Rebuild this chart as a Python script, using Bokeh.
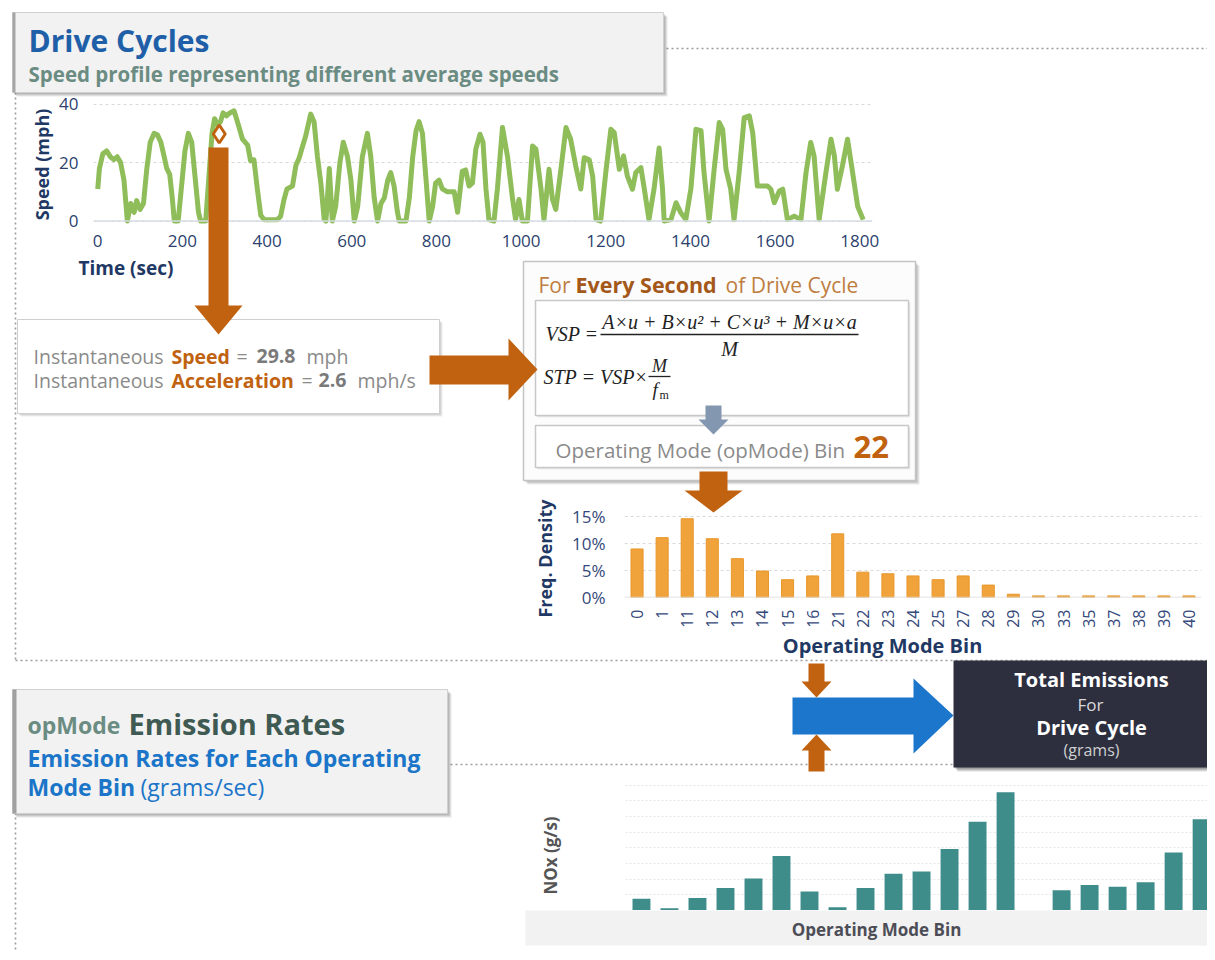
import math
from bokeh.plotting import figure
from bokeh.models import Range1d, FactorRange, FixedTicker, NumeralTickFormatter, Span, SingleIntervalTicker
from bokeh.core.properties import value
from bokeh.embed import file_html
from bokeh.resources import INLINE

# ---------------- data ----------------
time_s = [
    0, 4, 12, 21, 30, 38, 46, 54, 62, 70,
    78, 86, 92, 100, 108, 116, 124, 133, 141, 149,
    157, 163, 170, 176, 181, 190, 198, 206, 214, 222,
    230, 238, 243, 255, 262, 270, 276, 283, 290, 296,
    304, 312, 322, 330, 342, 354, 361, 369, 377, 385,
    393, 405, 424, 432, 440, 447, 460, 468, 476, 484,
    491, 503, 511, 519, 527, 535, 539, 547, 554, 562,
    572, 580, 590, 598, 606, 614, 625, 637, 645, 653,
    661, 669, 677, 685, 692, 700, 708, 712, 728, 736,
    744, 752, 759, 767, 775, 783, 791, 798, 806, 814,
    826, 842, 850, 861, 869, 877, 885, 893, 903, 910,
    917, 924, 936, 944, 956, 968, 980, 987, 995, 1003,
    1015, 1027, 1035, 1047, 1054, 1066, 1074, 1082, 1094, 1106,
    1117, 1129, 1141, 1149, 1161, 1169, 1177, 1188, 1200, 1212,
    1220, 1232, 1242, 1251, 1263, 1271, 1283, 1291, 1302, 1314,
    1326, 1334, 1338, 1354, 1366, 1377, 1389, 1401, 1413, 1425,
    1432, 1444, 1456, 1468, 1476, 1484, 1495, 1503, 1515, 1527,
    1539, 1547, 1558, 1570, 1582, 1590, 1598, 1610, 1618, 1629,
    1645, 1661, 1673, 1684, 1692, 1704, 1720, 1732, 1740, 1747,
    1759, 1771, 1783, 1795, 1808,
]
speed_mph = [
    11, 18, 23, 24, 22, 21, 22, 20, 14, 0,
    6, 3, 7, 4, 6, 18, 27, 30, 29.5, 27,
    22, 18, 16, 8, 0, 0, 12, 24, 30, 27,
    15, 3, 0, 0, 14, 30, 35, 33, 34, 37,
    36, 37, 37.7, 34, 28, 26, 20.6, 21, 11, 2,
    0.5, 0.5, 0.5, 1.7, 7.4, 11, 12, 19, 21.7, 25.7,
    29, 36.6, 34, 22, 13, 0.5, 0, 18, 0, 5,
    20, 27, 22, 14, 0, 5, 22, 30, 22, 8,
    0, 6, 8, 14, 16.6, 12, 3, 0, 0, 8,
    22, 31, 34, 30, 15, 0, 5, 13, 14, 11,
    10, 10, 3, 17, 17.5, 12, 13, 24.6, 29.7, 27,
    11, 0.5, 0, 11, 32, 22, 7.4, 0.5, 7.4, 0,
    0, 25.7, 24.6, 11, 0.5, 17.7, 7.5, 4, 17.7, 32,
    28, 18.9, 11, 21.7, 21, 15.4, 0.5, 0, 16.6, 31.4,
    30.3, 17.7, 22.3, 15.4, 10.9, 16.6, 18.3, 11, 0.5, 11,
    25, 11, 0, 0.5, 6.3, 2.9, 0.5, 11, 31.4, 30.9,
    16.6, 0, 17.7, 33.7, 31.4, 17.7, 11, 0.5, 16.6, 35.4,
    36, 30.3, 12, 12, 12, 10.9, 6.3, 10.3, 10.9, 0.5,
    1.7, 0.5, 16.6, 26.9, 22.3, 0.5, 16.6, 28, 22.3, 10.9,
    18.9, 28, 16.6, 5, 0.5,
]
assert len(time_s) == len(speed_mph)
time_ticks = [0, 200, 400, 600, 800, 1000, 1200, 1400, 1600, 1800]
speed_ticks = [0, 20, 40]

point_time = [287]
point_speed = [29.8]
inst_speed = "29.8"
inst_accel = "2.6"
opmode_result = "22"

opmode_bins = ["0", "1", "11", "12", "13", "14", "15", "16", "21", "22", "23", "24",
               "25", "27", "28", "29", "30", "33", "35", "37", "38", "39", "40"]
freq_density = [0.090, 0.111, 0.146, 0.109, 0.072, 0.049, 0.033, 0.040, 0.118, 0.047, 0.044, 0.040,
                0.033, 0.040, 0.023, 0.006, 0.003, 0.003, 0.003, 0.003, 0.003, 0.003, 0.003]
freq_ticks = [0, 0.05, 0.10, 0.15]

nox_slots = list(range(1, 22))
nox_rates = [0.0119, 0.0024, 0.0128, 0.0230, 0.0327, 0.0557, 0.0194, 0.0034, 0.0230, 0.0375,
             0.0399, 0.0629, 0.0908, 0.1210, 0.0, 0.0206, 0.0260, 0.0242, 0.0290, 0.0593, 0.0932]

# ---------------- styles ----------------
FONT = "Open Sans"
SERIF = "Liberation Serif"
NAVY = "#1f3864"
TICK = "#2c3f6e"
ORANGE = "#c0620f"
GREEN = "#8fbd5a"
GRAY_TXT = "#8a8a8a"
EQ = "#222222"


def place(left, top):
    return {"position": "absolute", "left": f"{left}px", "top": f"{top}px"}


def style_axis(ax, size="17px", color=TICK):
    ax.axis_line_color = None
    ax.major_tick_line_color = None
    ax.minor_tick_line_color = None
    ax.major_tick_out = 0
    ax.major_tick_in = 0
    ax.minor_tick_out = 0
    ax.major_label_text_font = FONT
    ax.major_label_text_font_size = size
    ax.major_label_text_color = color


# ---------------- speed chart ----------------
sp = figure(frame_width=779, frame_height=124,
            x_range=Range1d(-10, 1830), y_range=Range1d(-1.5, 40.9),
            output_backend="svg", toolbar_location=None,
            min_border_left=75, min_border_right=8, min_border_top=14, min_border_bottom=40,
            styles=place(18, 87))
sp.outline_line_color = None
sp.background_fill_alpha = 0
sp.border_fill_alpha = 0
sp.xaxis.ticker = FixedTicker(ticks=time_ticks)
sp.yaxis.ticker = FixedTicker(ticks=speed_ticks)
style_axis(sp.xaxis[0], "17px")
style_axis(sp.yaxis[0], "17px")
sp.xaxis.major_label_standoff = 9
sp.yaxis.major_label_standoff = 15
sp.xgrid.grid_line_color = None
sp.ygrid.grid_line_color = "#d9d9d9"
sp.ygrid.grid_line_dash = "3 3"
sp.add_layout(Span(location=0, dimension="width", line_color="#d6dce5", line_width=1.5))
sp.line(time_s, speed_mph, line_color=GREEN, line_width=5, line_join="round")
sp.scatter(point_time, point_speed, marker="diamond", size=18, line_color=ORANGE,
           line_width=3, fill_color="#ffffff", fill_alpha=0.25)

# ---------------- frequency chart ----------------
fq = figure(frame_width=577, frame_height=89,
            x_range=FactorRange(*opmode_bins, range_padding=0), y_range=Range1d(0, 0.165),
            output_backend="svg", toolbar_location=None,
            min_border_left=60, min_border_right=6, min_border_top=10, min_border_bottom=45,
            styles=place(564, 498))
fq.outline_line_color = None
fq.background_fill_alpha = 0
fq.border_fill_alpha = 0
fq.yaxis.ticker = FixedTicker(ticks=freq_ticks)
fq.yaxis.formatter = NumeralTickFormatter(format="0%")
style_axis(fq.xaxis[0], "16px", "#34487a")
style_axis(fq.yaxis[0], "17px", "#34487a")
fq.xaxis.major_label_orientation = math.pi / 2
fq.xaxis.major_label_standoff = 12
fq.yaxis.major_label_standoff = 19
fq.xgrid.grid_line_color = None
fq.ygrid.grid_line_color = "#d9d9d9"
fq.ygrid.grid_line_dash = "3 3"
fq.add_layout(Span(location=0, dimension="width", line_color="#d9d9d9", line_width=1.5))
fq.vbar(x=opmode_bins, top=freq_density, width=0.48, fill_color="#f0a33a", line_color="#e8962a")

# ---------------- NOx chart ----------------
nx = figure(width=582, height=135, x_range=Range1d(0.43, 21.21), y_range=Range1d(0, 0.138),
            output_backend="svg", toolbar_location=None, min_border=0,
            x_axis_location=None, y_axis_location=None,
            styles=place(625, 775))
nx.outline_line_color = None
nx.background_fill_alpha = 0
nx.border_fill_alpha = 0
nx.xgrid.grid_line_color = None
nx.ygrid.ticker = SingleIntervalTicker(interval=0.016)
nx.ygrid.grid_line_color = "#e6e6e6"
nx.ygrid.grid_line_dash = "2 2"
nx.vbar(x=nox_slots, top=nox_rates, width=0.64, fill_color="#3e8d8b", line_color=None)

# ---------------- infographic canvas (on top, transparent) ----------------
bg = figure(width=1199, height=944, x_range=Range1d(8, 1207), y_range=Range1d(952, 8),
            output_backend="svg", toolbar_location=None, min_border=0,
            x_axis_location=None, y_axis_location=None,
            styles=place(8, 8))
bg.outline_line_color = None
bg.background_fill_alpha = 0
bg.border_fill_alpha = 0
bg.xgrid.grid_line_color = None
bg.ygrid.grid_line_color = None


def box(x0, x1, y0, y1, fill, line=None, lw=1.0, shadow=4, alpha=0.07):
    for k in range(shadow, 0, -1):
        bg.quad(left=x0 + k, right=x1 + k, top=y0 + k, bottom=y1 + k,
                fill_color="#000000", fill_alpha=alpha, line_color=None)
    bg.quad(left=x0, right=x1, top=y0, bottom=y1, fill_color=fill,
            line_color=line, line_width=lw)


def txt(x, y, s, size, color, bold=False, italic=False, align="left",
        baseline="alphabetic", angle=0.0, font=FONT):
    if bold and italic:
        st = "bold italic"
    elif bold:
        st = "bold"
    elif italic:
        st = "italic"
    else:
        st = "normal"
    if baseline == "alphabetic":
        # place by visual cap-centre (y is the intended baseline)
        y = y - (0.33 if font == SERIF else 0.36) * size
        baseline = "middle"
    bg.text(x=[x], y=[y], text=[s], text_font=value(font), text_font_size=f"{size}px",
            text_font_style=st, text_color=color, text_align=align,
            text_baseline=baseline, angle=angle)


def poly(pts, color):
    bg.patch([p[0] for p in pts], [p[1] for p in pts], fill_color=color, line_color=None)


# dotted frame lines
bg.multi_line(xs=[[666, 1215], [15, 15], [15, 1215], [445, 953], [15, 15]],
              ys=[[48, 48], [92, 660], [660, 660], [764, 764], [812, 960]],
              line_color="#9c9c9c", line_width=1.6, line_dash="2 3")

# title box
box(12, 663, 12, 92, "#f2f2f2", line="#d0d0d0", shadow=4, alpha=0.09)
bg.quad(left=12, right=15, top=12, bottom=92, fill_color="#a6a6a6", line_color=None)
txt(28, 51, "Drive Cycles", 30, "#1f5fa8", bold=True)
txt(28, 81, "Speed profile representing different average speeds", 20.5, "#6b8c82", bold=True)

# speed chart titles
txt(41, 164, "Speed (mph)", 18, NAVY, bold=True, align="center", baseline="middle", angle=math.pi / 2)
txt(78, 274, "Time (sec)", 19, NAVY, bold=True)

# instantaneous box
box(17, 439, 319, 413, "#ffffff", line="#cfcfcf", shadow=3, alpha=0.07)
txt(33, 363, "Instantaneous", 19.5, GRAY_TXT)
txt(171, 363, "Speed", 19.5, ORANGE, bold=True)
txt(236, 363, "=", 19.5, GRAY_TXT)
txt(256, 363, inst_speed, 19.5, "#7a7a7a", bold=True)
txt(306, 363, "mph", 19.5, GRAY_TXT)
txt(33, 387, "Instantaneous", 19.5, GRAY_TXT)
txt(171, 387, "Acceleration", 19.5, ORANGE, bold=True)
txt(301, 387, "=", 19.5, GRAY_TXT)
txt(318, 387, inst_accel, 19.5, "#7a7a7a", bold=True)
txt(357, 387, "mph/s", 19.5, GRAY_TXT)

# VSP box
box(523, 915, 261, 480, "#fcfcfc", line="#c4c4c4", lw=1.5, shadow=4, alpha=0.08)
txt(538, 292, "For", 21, "#bf7d40")
txt(575, 292, "Every Second", 21.5, "#a3581a", bold=True)
txt(725, 292, "of Drive Cycle", 21, "#bf7d40")
box(535, 908, 300, 415, "#ffffff", line="#c8c8c8", lw=1.5, shadow=2, alpha=0.06)
box(535, 908, 425, 467, "#ffffff", line="#c8c8c8", lw=1.5, shadow=2, alpha=0.06)
# formula
txt(545, 340, "VSP =", 20, EQ, italic=True, font=SERIF)
txt(729, 328, "A×u + B×u² + C×u³ + M×u×a", 20, EQ, italic=True, font=SERIF, align="center")
bg.line([600, 858], [334, 334], line_color=EQ, line_width=1.4)
txt(729, 355, "M", 20, EQ, italic=True, font=SERIF, align="center")
txt(543, 383, "STP = VSP", 20, EQ, italic=True, font=SERIF)
txt(635, 383, "×", 20, EQ, font=SERIF)
txt(659, 371, "M", 18, EQ, italic=True, font=SERIF, align="center")
bg.line([648, 670], [376, 376], line_color=EQ, line_width=1.3)
txt(652, 395, "f", 19, EQ, italic=True, font=SERIF)
txt(659, 398, "m", 12, EQ, font=SERIF)
# gray arrow
poly([(705, 405), (721, 405), (721, 419), (728, 419), (713, 434), (698, 419), (705, 419)], "#8497b0")
txt(555, 457, "Operating Mode (opMode) Bin", 20.5, GRAY_TXT)
txt(853, 458, opmode_result, 31, ORANGE, bold=True)

# freq chart titles
txt(544, 558, "Freq. Density", 18, NAVY, bold=True, align="center", baseline="middle", angle=math.pi / 2)
txt(882, 645, "Operating Mode Bin", 20, NAVY, bold=True, align="center", baseline="middle")

# orange arrows
poly([(208, 147), (228, 147), (228, 305), (242, 305), (218, 334), (194, 305), (208, 305)], ORANGE)
poly([(429, 355), (508, 355), (508, 338), (537, 369), (508, 400), (508, 384), (429, 384)], ORANGE)
poly([(699, 471), (727, 471), (727, 490), (742, 490), (713, 512), (684, 490), (699, 490)], ORANGE)
poly([(808, 663), (824, 663), (824, 681), (831, 681), (816, 697), (801, 681), (808, 681)], ORANGE)
poly([(816, 734), (831, 750), (824, 750), (824, 771), (808, 771), (808, 750), (801, 750)], ORANGE)
# blue arrow
poly([(792, 697), (913, 697), (913, 678), (953, 715), (913, 753), (913, 734), (792, 734)], "#1b76cc")

# opMode box
box(12, 447, 689, 813, "#f2f2f2", line="#d0d0d0", shadow=4, alpha=0.09)
bg.quad(left=12, right=16, top=689, bottom=813, fill_color="#a0a0a0", line_color=None)
txt(27, 733, "opMode", 23, "#6b8c82", bold=True)
txt(128, 733, "Emission Rates", 29, "#3f5a53", bold=True)
txt(27, 766, "Emission Rates for Each Operating", 23, "#1b75c8", bold=True)
txt(27, 795, "Mode Bin", 23, "#1b75c8", bold=True)
txt(140, 795, "(grams/sec)", 23, "#1b75c8")

# total emissions box
box(953, 1215, 660, 767, "#2d2f3f", line=None, shadow=4, alpha=0.12)
txt(1091, 686, "Total Emissions", 20, "#ffffff", bold=True, align="center")
txt(1090, 710, "For", 17, "#d9d9d9", align="center")
txt(1091, 734, "Drive Cycle", 20, "#ffffff", bold=True, align="center")
txt(1091, 755, "(grams)", 16, "#d0d0d0", align="center")

# NOx chart band and titles
bg.quad(left=525, right=1215, top=910, bottom=945, fill_color="#f2f2f2", line_color=None)
txt(876, 929, "Operating Mode Bin", 17, "#4d4d57", bold=True, align="center", baseline="middle")
txt(550, 855, "NOx (g/s)", 17, "#555555", bold=True, align="center", baseline="middle", angle=math.pi / 2)

with open("out.html", "w") as f:
    f.write(file_html([sp, fq, nx, bg], INLINE))
